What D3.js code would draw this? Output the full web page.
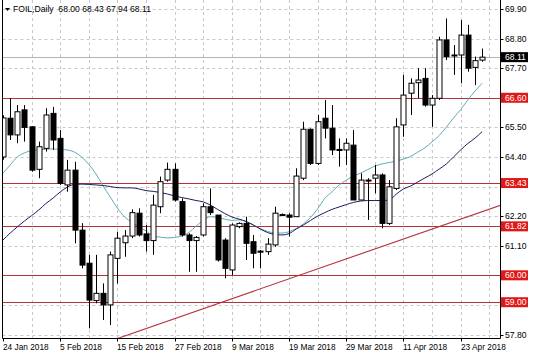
<!DOCTYPE html>
<html><head><meta charset="utf-8">
<script src="https://cdn.jsdelivr.net/npm/d3@7/dist/d3.min.js"></script>
<style>html,body{margin:0;padding:0;background:#fff;}svg{display:block;font-family:"Liberation Sans",Arial,sans-serif;}</style>
</head><body><svg id="c" width="536" height="357"></svg>
<script>
const title = "FOIL,Daily  68.00 68.43 67.94 68.11";
const opens  = [64.40,65.84,65.22,66.15,65.52,63.94,64.72,66.02,65.09,63.36,63.91,61.68,60.45,59.06,59.33,58.90,60.63,61.21,61.46,62.31,61.54,61.29,62.55,63.54,63.94,62.74,61.50,61.29,61.50,62.55,62.24,61.31,60.20,61.81,61.93,61.25,60.90,60.88,61.13,62.24,62.24,62.18,63.61,65.43,64.16,65.84,65.47,64.68,64.66,64.84,62.80,63.54,63.61,63.73,61.93,63.23,65.59,66.77,67.16,67.32,66.33,66.58,68.75,68.19,68.19,68.93,67.73,68.00];
const highs  = [65.95,66.58,66.33,66.33,65.55,64.97,66.21,66.26,65.40,64.29,64.22,61.94,60.76,60.76,59.70,60.88,61.62,61.68,62.45,62.49,61.87,62.99,63.67,64.19,64.16,62.86,61.56,61.46,62.68,63.23,62.24,61.38,61.93,61.97,62.18,61.50,60.94,61.38,62.55,62.30,62.31,63.98,65.71,65.46,65.96,66.52,66.33,65.09,65.09,65.40,63.79,63.61,64.10,63.79,63.54,65.84,67.45,67.32,67.70,67.70,66.70,68.87,69.55,68.56,69.49,69.31,68.13,68.43];
const lows   = [64.30,65.03,64.91,64.97,63.85,63.61,64.60,64.66,63.36,63.11,61.19,60.26,58.03,58.96,58.34,58.15,59.70,60.69,61.38,61.44,60.88,60.76,62.31,63.48,62.74,61.44,60.13,60.13,61.44,62.24,60.51,59.89,60.01,61.75,60.57,60.26,60.26,60.76,61.06,62.20,61.44,62.18,63.54,64.10,64.10,65.09,64.47,64.04,64.10,62.80,62.80,62.06,63.05,61.75,61.87,63.17,65.15,65.96,66.58,66.27,65.52,66.52,68.00,67.45,67.14,67.57,67.07,67.94];
const closes = [65.85,65.22,66.08,65.50,63.91,64.78,65.96,65.03,63.42,63.91,61.68,60.38,59.08,59.33,58.90,60.76,61.38,61.46,62.33,61.50,61.29,62.61,63.48,63.94,62.80,61.50,61.29,61.41,62.55,62.33,60.57,60.26,61.87,61.93,61.19,60.82,60.86,61.16,62.31,62.26,62.16,63.69,65.43,64.16,65.71,65.47,64.66,64.64,64.91,62.80,63.54,63.52,63.73,61.93,63.29,65.52,66.70,67.14,67.26,66.33,66.58,68.75,68.13,68.17,68.93,67.70,67.98,68.11];
const maFast = [63.80,64.10,64.40,64.55,64.64,64.66,64.69,64.70,64.68,64.66,64.58,64.40,64.12,63.77,63.32,62.91,62.50,62.17,61.98,61.81,61.65,61.46,61.42,61.39,61.41,61.46,61.59,61.83,62.04,62.18,62.15,62.09,62.04,62.06,62.00,61.87,61.74,61.63,61.58,61.57,61.62,61.74,61.91,62.15,62.47,62.86,63.10,63.36,63.54,63.69,63.80,63.93,64.06,64.14,64.19,64.25,64.32,64.42,64.58,64.74,64.96,65.20,65.51,65.85,66.16,66.52,66.85,67.14];
const maSlow = [61.31,61.57,61.80,62.02,62.22,62.43,62.67,62.87,63.10,63.28,63.38,63.39,63.38,63.36,63.34,63.30,63.26,63.25,63.25,63.21,63.15,63.12,63.08,63.02,62.95,62.89,62.84,62.78,62.73,62.61,62.45,62.30,62.17,62.09,62.00,61.87,61.72,61.59,61.52,61.50,61.55,61.72,61.87,62.04,62.20,62.33,62.45,62.54,62.63,62.71,62.76,62.78,62.78,62.78,62.80,63.02,63.21,63.32,63.47,63.62,63.77,63.95,64.14,64.40,64.66,64.90,65.10,65.34];
const priceTicks = [57.80,58.90,60.00,61.10,62.20,63.30,64.40,65.50,66.60,67.70,68.80,69.90];
const levels = [66.60,63.43,61.82,60.00,59.00];
const lastPrice = 68.11;
const dateLabels = ["24 Jan 2018","5 Feb 2018","15 Feb 2018","27 Feb 2018","9 Mar 2018","19 Mar 2018","29 Mar 2018","11 Apr 2018","23 Apr 2018"];
const dateLabelBars = [0,8,16,24,32,40,48,56,64];
const gridBars = [4,8,12,16,20,24,28,32,36,40,44,48,52,56,60,64,68];
const trend = [[16,57.65],[60,61.72]];

const svg = d3.select("#c");
const L = 2.5, R = 500.5, T = 0, B = 338.5;
const x = d3.scaleLinear().domain([0, 69.5]).range([3, 500]);
const y = d3.scaleLinear().domain([57.80, 69.90]).range([334.5, 9]);
const fmt = d3.format(".2f");

svg.append("defs").append("clipPath").attr("id","clip").append("rect")
  .attr("x",L).attr("y",T).attr("width",R-L).attr("height",B-T);

// grid
const grid = svg.append("g").attr("stroke","#c8c8c8").attr("stroke-dasharray","3,3").attr("stroke-width",1);
grid.selectAll("line.h").data(priceTicks).join("line")
  .attr("x1",L).attr("x2",R).attr("y1",d=>Math.round(y(d))+0.5).attr("y2",d=>Math.round(y(d))+0.5);
grid.selectAll("line.v").data(gridBars).join("line")
  .attr("y1",T).attr("y2",B).attr("x1",d=>Math.round(x(d))+0.5).attr("x2",d=>Math.round(x(d))+0.5);

const plot = svg.append("g").attr("clip-path","url(#clip)");

// current price line
plot.append("line").attr("x1",L).attr("x2",R)
  .attr("y1",Math.round(y(lastPrice))+0.5).attr("y2",Math.round(y(lastPrice))+0.5)
  .attr("stroke","#b4b4b4").attr("stroke-width",1);

// horizontal levels
plot.selectAll("line.lvl").data(levels).join("line")
  .attr("x1",L).attr("x2",R).attr("y1",d=>Math.round(y(d))+0.5).attr("y2",d=>Math.round(y(d))+0.5)
  .attr("stroke","#b3323a").attr("stroke-width",1.1);

// trend line (ray)
const slope = (trend[1][1]-trend[0][1])/(trend[1][0]-trend[0][0]);
const tEnd = 72;
plot.append("line")
  .attr("x1",x(trend[0][0] - 2)).attr("y1",y(trend[0][1] - 2*slope))
  .attr("x2",x(tEnd)).attr("y2",y(trend[0][1] + (tEnd-trend[0][0])*slope))
  .attr("stroke","#b3323a").attr("stroke-width",1.1);

// moving averages
const idx = d3.range(opens.length);
const lineGen = arr => d3.line().x(i=>x(i)).y(i=>y(arr[i])).curve(d3.curveMonotoneX)(idx);
plot.append("path").attr("d",lineGen(maFast)).attr("fill","none").attr("stroke","#62a9b8").attr("stroke-width",1);
plot.append("path").attr("d",lineGen(maSlow)).attr("fill","none").attr("stroke","#1c1c5c").attr("stroke-width",1);

// candles
const cg = plot.append("g");
idx.forEach(i=>{
  const cx = Math.round(x(i))+0.5;
  cg.append("line").attr("x1",cx).attr("x2",cx).attr("y1",y(highs[i])).attr("y2",y(lows[i]))
    .attr("stroke","#000").attr("stroke-width",1);
  const top = y(Math.max(opens[i],closes[i])), bot = y(Math.min(opens[i],closes[i]));
  const bull = closes[i] >= opens[i];
  cg.append("rect").attr("x",cx-2.5).attr("y",top).attr("width",5).attr("height",Math.max(1,bot-top))
    .attr("fill",bull?"#fff":"#000").attr("stroke","#000").attr("stroke-width",1);
});

// frame
svg.append("line").attr("x1",L).attr("x2",L).attr("y1",T).attr("y2",B).attr("stroke","#000");
svg.append("line").attr("x1",L).attr("x2",R).attr("y1",B).attr("y2",B).attr("stroke","#000");
svg.append("line").attr("x1",R).attr("x2",R).attr("y1",T).attr("y2",B).attr("stroke","#000");

// right axis (labels hidden under level boxes are not drawn)
const covered = d => levels.concat([lastPrice]).some(v => Math.abs(y(v)-y(d)) < 9);
const ax = svg.append("g");
ax.selectAll("line").data(priceTicks).join("line")
  .attr("x1",R).attr("x2",R+3).attr("y1",d=>Math.round(y(d))+0.5).attr("y2",d=>Math.round(y(d))+0.5).attr("stroke","#000");
ax.selectAll("text").data(priceTicks.filter(d=>!covered(d))).join("text")
  .attr("x",505).attr("y",d=>y(d)+3).attr("font-size","8.6px").attr("fill","#000").text(d=>fmt(d));

// level labels
const lab = svg.append("g");
levels.forEach(v=>{
  lab.append("rect").attr("x",501).attr("y",y(v)-5).attr("width",27).attr("height",10).attr("fill","#e01818");
  lab.append("text").attr("x",505).attr("y",y(v)+3).attr("font-size","8.6px").attr("fill","#fff").text(fmt(v));
});
lab.append("rect").attr("x",501).attr("y",y(lastPrice)-5).attr("width",27).attr("height",10).attr("fill","#000");
lab.append("text").attr("x",505).attr("y",y(lastPrice)+3).attr("font-size","8.6px").attr("fill","#fff").text(fmt(lastPrice));

// bottom axis
const bx = svg.append("g");
bx.selectAll("line").data(dateLabelBars).join("line")
  .attr("x1",d=>Math.round(x(d))+0.5).attr("x2",d=>Math.round(x(d))+0.5).attr("y1",B).attr("y2",B+3).attr("stroke","#000");
bx.selectAll("text").data(dateLabelBars).join("text")
  .attr("x",d=>Math.round(x(d))).attr("y",349.5).attr("font-size","8.3px").attr("fill","#000")
  .text((d,i)=>dateLabels[i]);

// title
svg.append("path").attr("d","M5,8 L10,8 L7.5,11 Z").attr("fill","#000");
svg.append("text").attr("x",13).attr("y",12).attr("font-size","8.6px").attr("fill","#000")
  .attr("xml:space","preserve").style("white-space","pre").text(title);
</script></body></html>
